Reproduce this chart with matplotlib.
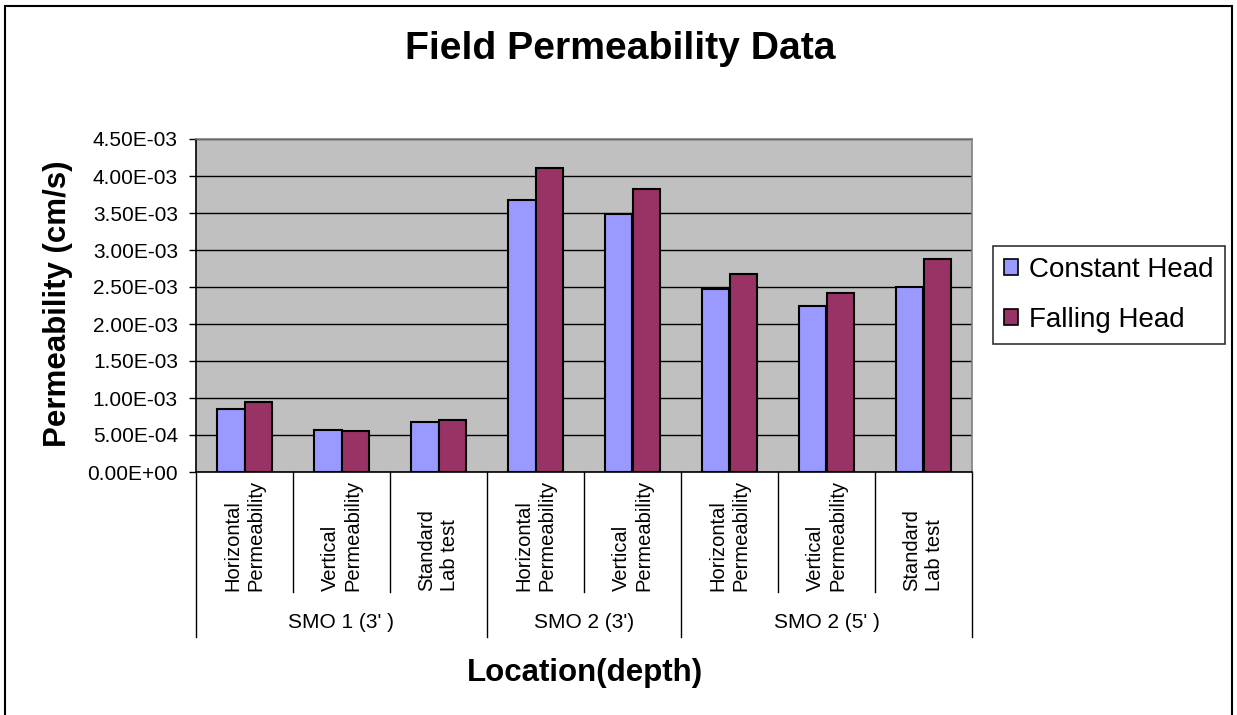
import numpy as np
import matplotlib
matplotlib.use("Agg")
import matplotlib.pyplot as plt
from matplotlib.patches import Rectangle, Patch

plt.rcParams['font.family'] = ['Liberation Sans', 'DejaVu Sans']

# field permeability results (cm/s)
categories = ["Horizontal\nPermeability", "Vertical\nPermeability", "Standard\nLab test",
              "Horizontal\nPermeability", "Vertical\nPermeability",
              "Horizontal\nPermeability", "Vertical\nPermeability", "Standard\nLab test"]
groups = ["SMO 1 (3' )", "SMO 2 (3')", "SMO 2 (5' )"]
group_sizes = [3, 2, 3]
constant_head = [8.5e-4, 5.7e-4, 6.7e-4, 3.68e-3, 3.48e-3, 2.47e-3, 2.24e-3, 2.50e-3]
falling_head = [9.5e-4, 5.5e-4, 7.0e-4, 4.11e-3, 3.83e-3, 2.67e-3, 2.42e-3, 2.88e-3]
yticks = np.arange(0, 4.51e-3, 0.5e-3)

W, H = 1237, 715
fig = plt.figure(figsize=(W / 100, H / 100), dpi=100)
ax = fig.add_axes([196 / W, 1 - 472 / H, 776 / W, 333 / H])
ax.set_facecolor('#C0C0C0')

x = np.arange(len(categories))
bw = 1 / 3.5
ax.bar(x - bw / 2, constant_head, bw, color='#9999FF', edgecolor='black', linewidth=1.5, zorder=3)
ax.bar(x + bw / 2, falling_head, bw, color='#993366', edgecolor='black', linewidth=1.5, zorder=3)

ax.set_xlim(-0.5, len(categories) - 0.5)
ax.set_ylim(0, 4.5e-3)
ax.set_yticks(yticks)
ax.set_yticklabels(['%.2E' % v for v in yticks], fontsize=15)
ax.tick_params(axis='y', direction='out', length=5, width=1, pad=8)
ax.set_xticks([])
ax.grid(axis='y', color='black', linewidth=1, zorder=1)
ax.set_axisbelow(True)
ax.spines['left'].set_color('black')
ax.spines['bottom'].set_color('black')
ax.spines['top'].set_color('#808080')
ax.spines['right'].set_color('#808080')
for s in ax.spines.values():
    s.set_linewidth(1.2)

# two-level category axis underneath the plot
tr = ax.get_xaxis_transform()
short_y = -(592 - 472) / 333
long_y = -(637 - 472) / 333
label_y = -(591 - 472) / 333
group_y = -(622 - 472) / 333

bounds = np.cumsum([0] + group_sizes) - 0.5
for b in np.arange(-0.5, len(categories)):
    end = long_y if b in bounds else short_y
    ax.plot([b, b], [0, end], color='black', linewidth=1, transform=tr, clip_on=False)

for xi, lab in zip(x, categories):
    ax.text(xi, label_y, lab, transform=tr, rotation=90, ha='center', va='bottom',
            multialignment='left', fontsize=14.5, linespacing=1.25)

for i, g in enumerate(groups):
    ax.text((bounds[i] + bounds[i + 1]) / 2, group_y, g, transform=tr,
            ha='center', va='center', fontsize=15)

fig.text(620 / W, 1 - 59 / H, 'Field Permeability Data', ha='center', va='baseline',
         fontsize=28.2, fontweight='bold')
fig.text(58 / W, 1 - 304 / H, 'Permeability (cm/s)', ha='center', va='center',
         rotation=90, fontsize=22.5, fontweight='bold')
fig.text(585 / W, 1 - 673 / H, 'Location(depth)', ha='center', va='center',
         fontsize=22.5, fontweight='bold')

handles = [Patch(facecolor='#9999FF', edgecolor='black', linewidth=1.2),
           Patch(facecolor='#993366', edgecolor='black', linewidth=1.2)]
leg = fig.legend(handles, ['Constant Head', 'Falling Head'], loc='upper left',
                 bbox_to_anchor=(993 / W, 1 - 246 / H), fontsize=20, frameon=True,
                 fancybox=False, edgecolor='black', handlelength=0.5, handleheight=0.5,
                 handletextpad=0.4, labelspacing=0.85, borderpad=0.4, borderaxespad=0)
leg.get_frame().set_linewidth(1.2)

# outer chart border
fig.patches.append(Rectangle((5 / W, -0.02), (1232 - 5) / W, (715 - 6) / H + 0.02,
                             transform=fig.transFigure, fill=False, edgecolor='black',
                             linewidth=1.5))

fig.savefig('out.png', dpi=100)
